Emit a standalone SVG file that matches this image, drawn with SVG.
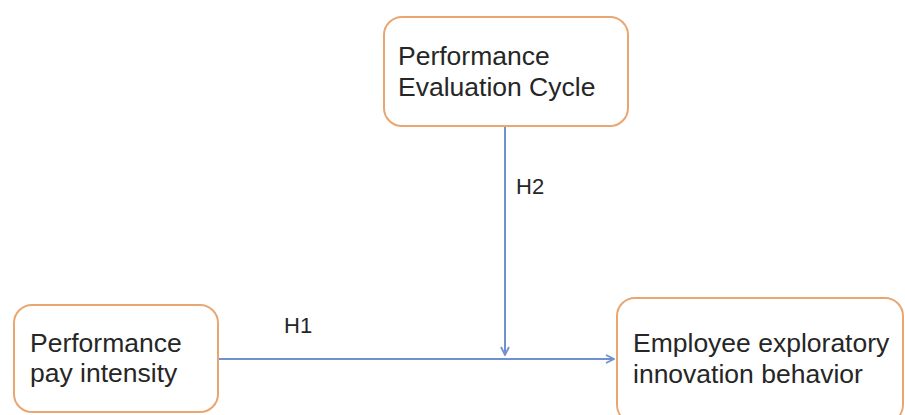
<svg xmlns="http://www.w3.org/2000/svg" width="905" height="415" viewBox="0 0 905 415">
<style>
.box{fill:#fff;stroke:#E9A670;stroke-width:2}
.t{font-family:"Liberation Sans",Arial,sans-serif;font-size:26.5px;fill:#262626}
.lbl{font-family:"Liberation Sans",Arial,sans-serif;font-size:22px;fill:#262626}
.ln{stroke:#7091CF;stroke-width:2;fill:none}
</style>
<defs>
<marker id="ah" viewBox="0 0 10 10" refX="9" refY="5" markerWidth="10" markerHeight="10" markerUnits="userSpaceOnUse" orient="auto">
<path d="M1,1 L9,5 L1,9" fill="none" stroke="#7091CF" stroke-width="1.8"/>
</marker>
</defs>
<rect width="905" height="415" fill="#fff"/>
<g id="connectors">
<line class="ln" x1="218" y1="359" x2="614" y2="359" marker-end="url(#ah)"/>
<line class="ln" x1="505" y1="126" x2="505" y2="355" marker-end="url(#ah)"/>
<text class="lbl" x="284" y="333">H1</text>
<text class="lbl" x="516" y="194">H2</text>
</g>
<g id="node-cycle">
<rect class="box" x="384" y="17" width="244" height="109" rx="18"/>
<text class="t" x="398" y="65">Performance</text>
<text class="t" x="398" y="96">Evaluation Cycle</text>
</g>
<g id="node-pay">
<rect class="box" x="14" y="305" width="204" height="107" rx="18"/>
<text class="t" x="30" y="352">Performance</text>
<text class="t" x="30" y="382">pay intensity</text>
</g>
<g id="node-behavior">
<rect class="box" x="617" y="298" width="286" height="125" rx="18"/>
<text class="t" x="633" y="352">Employee exploratory</text>
<text class="t" x="633" y="383">innovation behavior</text>
</g>
</svg>
